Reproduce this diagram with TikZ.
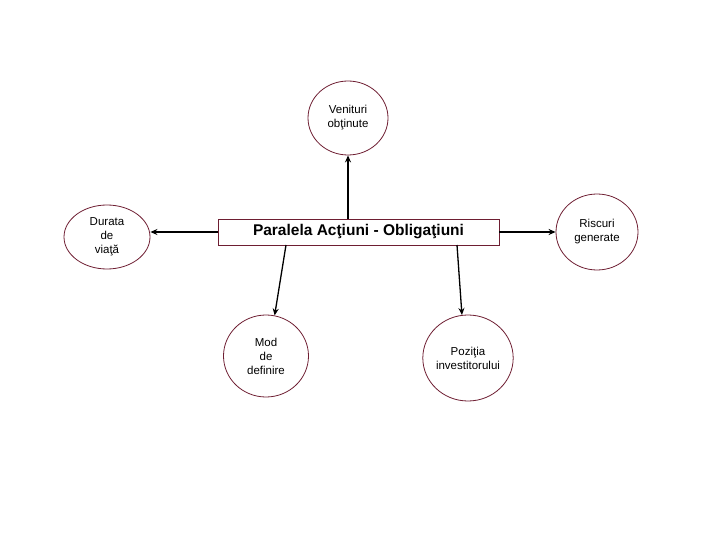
\documentclass[tikz,border=0pt]{standalone}
\usepackage{fontspec}
\setmainfont{Liberation Sans}
\usetikzlibrary{shapes.geometric,arrows.meta}
\definecolor{rim}{RGB}{110,30,50}
\tikzset{
  bubble/.style={ellipse,draw=rim,line width=0.8pt,inner sep=0pt,align=center,
    font=\fontsize{11.5}{14}\selectfont},
  mainbox/.style={rectangle,draw=rim,line width=0.8pt,inner sep=0pt,
    minimum width=281pt,minimum height=26pt,font=\fontsize{15.5}{18}\selectfont\bfseries},
  conn/.style={draw=black,line width=1.3pt,-{Stealth[length=7pt,width=6pt]}}
}
\begin{document}
\begin{tikzpicture}[x=1pt,y=-1pt]
\useasboundingbox (0,0) rectangle (720,540);
\node[mainbox] (r) at (358.5,232) {Paralela Acţiuni - Obligaţiuni};
\node[bubble,minimum width=80pt,minimum height=74pt] (ven) at (348,118) {Venituri\\obţinute};
\node[bubble,minimum width=86pt,minimum height=64pt] (dur) at (107,237) {Durata\\de\\viaţă};
\node[bubble,minimum width=82pt,minimum height=76pt] (ris) at (597,232) {Riscuri\\generate};
\node[bubble,minimum width=85pt,minimum height=82pt] (mod) at (266,356) {Mod\\de\\definire};
\node[bubble,minimum width=90pt,minimum height=86pt] (poz) at (468,358) {Poziţia\\investitorului};
\coordinate (rm) at (286,245);
\coordinate (rp) at (457,245);
\draw[conn] (r.north -| ven.south) -- (ven.south);
\draw[conn] (r.west) -- (dur.east |- r.west);
\draw[conn] (r.east) -- (ris.west |- r.east);
\draw[conn] (rm) -- (mod.78);
\draw[conn] (rp) -- (poz.98);
\end{tikzpicture}
\end{document}
